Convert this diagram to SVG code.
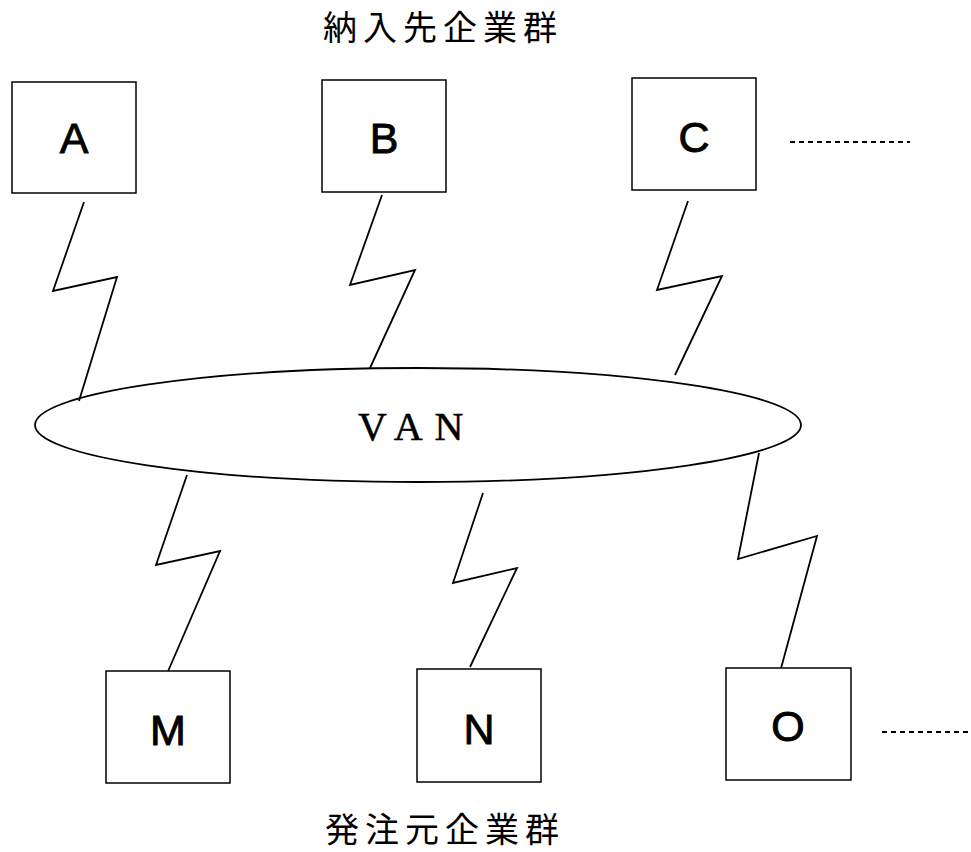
<svg xmlns="http://www.w3.org/2000/svg" width="971" height="852" viewBox="0 0 971 852">
<style>
.box{fill:#fff;stroke:#000;stroke-width:1.5}
.lbl{font-family:"Liberation Sans",Arial,sans-serif;font-size:43px;text-anchor:middle;fill:#000;stroke:#000;stroke-width:0.9}
.title{font-family:"Noto Sans CJK JP","Noto Sans CJK SC",sans-serif;font-size:34px;letter-spacing:6px;fill:#000}
.zig{fill:none;stroke:#000;stroke-width:1.8;stroke-linejoin:miter}
.dots{stroke:#000;stroke-width:2;stroke-dasharray:5,4}
</style>
<rect width="971" height="852" fill="#fff"/>
<text class="title" x="323" y="40">納入先企業群</text>
<text class="title" x="325" y="842">発注元企業群</text>
<g id="connectors">
<polyline class="zig" points="84,202 53,291 117,277 79,401"/>
<polyline class="zig" points="382,195 350,285 415,270 370,368"/>
<polyline class="zig" points="688,201 657,290 722,276 675,375"/>
<polyline class="zig" points="187,475 156,565 220,551 166,676"/>
<polyline class="zig" points="483,493 453,583 517,568 470,667"/>
<polyline class="zig" points="759,453 738,559 817,536 780,672"/>
<line class="dots" x1="790" y1="142" x2="910" y2="142"/>
<line class="dots" x1="882" y1="732" x2="971" y2="732"/>
</g>
<g id="VAN">
<ellipse cx="418" cy="425" rx="383" ry="57" fill="none" stroke="#000" stroke-width="1.8"/>
<text x="358" y="440" font-family="Liberation Serif,serif" font-size="40" letter-spacing="12" fill="#000" stroke="#000" stroke-width="0.5">VAN</text>
</g>
<g id="A"><rect class="box" x="12" y="82" width="124" height="111"/><text class="lbl" x="74" y="153">A</text></g>
<g id="B"><rect class="box" x="322" y="80" width="124" height="112"/><text class="lbl" x="384" y="153">B</text></g>
<g id="C"><rect class="box" x="632" y="78" width="124" height="112"/><text class="lbl" x="694" y="152">C</text></g>
<g id="M"><rect class="box" x="106" y="671" width="124" height="112"/><text class="lbl" x="168" y="745">M</text></g>
<g id="N"><rect class="box" x="417" y="669" width="124" height="113"/><text class="lbl" x="479" y="744">N</text></g>
<g id="O"><rect class="box" x="726" y="668" width="125" height="112"/><text class="lbl" x="788" y="741">O</text></g>
</svg>
